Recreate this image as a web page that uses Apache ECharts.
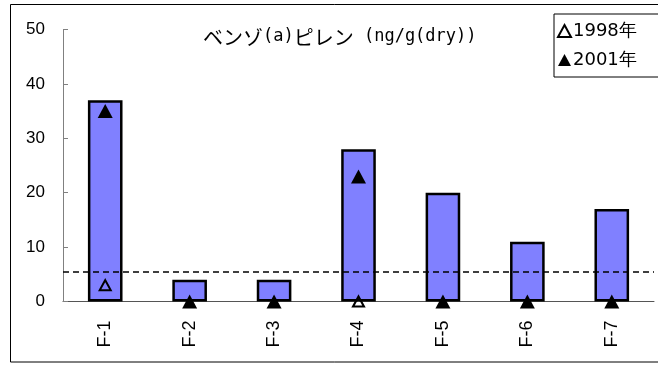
<!DOCTYPE html>
<html>
<head>
<meta charset="utf-8">
<script src="https://cdn.jsdelivr.net/npm/echarts@6/dist/echarts.min.js"></script>
<style>
  html, body { margin: 0; padding: 0; background: #fff; }
  #chart { width: 658px; height: 365px; }
</style>
</head>
<body>
<div id="chart"></div>
<script>
// Sampling sites
const categories = ['F-1', 'F-2', 'F-3', 'F-4', 'F-5', 'F-6', 'F-7'];
// Bar values (ng/g dry)
const barValues = [37, 4, 4, 28, 20, 11, 17];
// Survey results by year
const values1998 = [3, null, null, 0, null, null, null];
const values2001 = [35, 0, 0, 23, 0, 0, 0];
// Reference level drawn as a dashed line
const referenceLevel = 5.4;
// Value axis ticks
const yTicks = { min: 0, max: 50, interval: 10 };

const chart = echarts.init(document.getElementById('chart'), null, { renderer: 'canvas' });

const option = {
  animation: false,
  backgroundColor: '#fff',
  textStyle: { fontFamily: '"Liberation Sans", Arial, sans-serif', color: '#000' },
  title: {
    text: '{jp|ベンゾ}{mono|(a)}{jp|ピレン}{mono| (ng/g(dry))}',
    left: 198,
    top: 20,
    textStyle: {
      fontWeight: 'normal',
      rich: {
        jp: { fontFamily: '"Noto Sans CJK JP"', fontSize: 20, fontWeight: 'normal', color: '#000', lineHeight: 24 },
        mono: { fontFamily: '"DejaVu Sans Mono"', fontSize: 17, fontWeight: 'normal', color: '#000', lineHeight: 24 }
      }
    }
  },
  legend: {
    orient: 'vertical',
    left: 554,
    top: 14,
    padding: [8, 22, 8, 3],
    itemGap: 11,
    itemWidth: 13,
    itemHeight: 12,
    borderColor: '#000',
    borderWidth: 1,
    backgroundColor: '#fff',
    textStyle: { fontSize: 18, fontFamily: '"DejaVu Sans", sans-serif', color: '#000', padding: [0, 0, 0, -3] },
    data: ['1998年', '2001年']
  },
  grid: { left: 63, right: 4, top: 29.5, bottom: 63.5 },
  xAxis: {
    type: 'category',
    data: categories,
    boundaryGap: true,
    axisLine: { lineStyle: { color: '#555', width: 1 } },
    axisTick: { inside: true, length: 6, lineStyle: { color: '#555' } },
    axisLabel: { rotate: 90, fontSize: 18, margin: 19, color: '#000' }
  },
  yAxis: {
    type: 'value',
    min: yTicks.min,
    max: yTicks.max,
    interval: yTicks.interval,
    axisLine: { show: true, lineStyle: { color: '#808080', width: 1 } },
    axisTick: { show: true, inside: true, length: 5, lineStyle: { color: '#808080' } },
    axisLabel: { fontSize: 17, margin: 18, color: '#000' },
    splitLine: { show: false }
  },
  series: [
    {
      name: 'value',
      type: 'bar',
      data: barValues,
      barWidth: '41%',
      itemStyle: { color: '#8080ff', borderColor: '#000', borderWidth: 2.5 },
      markLine: {
        silent: true,
        symbol: 'none',
        label: { show: false },
        lineStyle: { color: '#000', type: [6, 4], width: 1.5 },
        data: [{ yAxis: referenceLevel }]
      },
      z: 2
    },
    {
      name: '1998年',
      type: 'scatter',
      data: values1998,
      symbol: 'triangle',
      symbolSize: [11, 10],
      clip: false,
      itemStyle: { color: 'rgba(0,0,0,0)', borderColor: '#000', borderWidth: 2, opacity: 1 },
      z: 4
    },
    {
      name: '2001年',
      type: 'scatter',
      data: values2001,
      symbol: 'triangle',
      symbolSize: [15, 14],
      clip: false,
      itemStyle: { color: '#000', opacity: 1 },
      z: 5
    }
  ],
  graphic: [
    {
      type: 'rect',
      shape: { x: 10.5, y: 4.5, width: 660, height: 357.5 },
      style: { fill: 'none', stroke: '#000', lineWidth: 1 },
      silent: true,
      z: 100
    }
  ]
};

chart.setOption(option);
</script>
</body>
</html>
